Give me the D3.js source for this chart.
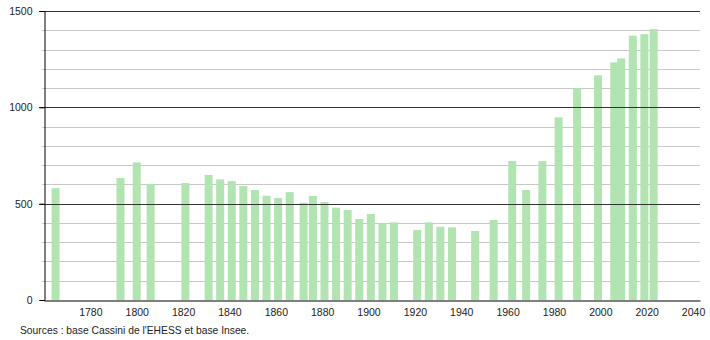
<!DOCTYPE html>
<html>
<head>
<meta charset="utf-8">
<script src="https://cdn.jsdelivr.net/npm/d3@7"></script>
<style>
  html, body { margin: 0; padding: 0; background: #fff; }
  svg { display: block; font-family: "Liberation Sans", Arial, sans-serif; }
</style>
</head>
<body>
<div id="chart"></div>
<script>
const years = [1765, 1793, 1800, 1806, 1821, 1831, 1836, 1841, 1846, 1851, 1856, 1861, 1866,
  1872, 1876, 1881, 1886, 1891, 1896, 1901, 1906, 1911, 1921, 1926, 1931, 1936, 1946,
  1954, 1962, 1968, 1975, 1982, 1990, 1999, 2006, 2009, 2014, 2019, 2023];
const population = [580, 633, 714, 603, 607, 649, 626, 617, 592, 571, 541, 529, 560,
  505, 540, 508, 479, 467, 420, 446, 398, 403, 363, 403, 380, 377, 358,
  415, 721, 571, 721, 948, 1099, 1166, 1233, 1254, 1372, 1380, 1406];
const xTicks = [1780, 1800, 1820, 1840, 1860, 1880, 1900, 1920, 1940, 1960, 1980, 2000, 2020, 2040];
const yMajor = [0, 500, 1000, 1500];
const yMinor = d3.range(0, 1501, 100);
const sourceText = "Sources : base Cassini de l'EHESS et base Insee.";

const width = 710;
const height = 340;
const plotLeft = 44, plotRight = 700, plotTop = 11, plotBottom = 300;
const barWidth = 8;

const svg = d3.select("#chart").append("svg")
  .attr("width", width)
  .attr("height", height)
  .attr("viewBox", [0, 0, width, height]);

const x = d3.scaleLinear().domain([1760, 2043]).range([plotLeft, plotRight]);
const y = d3.scaleLinear().domain([0, 1500]).range([plotBottom, plotTop]);

// minor grid
svg.append("g")
  .selectAll("line")
  .data(yMinor.filter((d) => d % 500 !== 0))
  .join("line")
  .attr("x1", plotLeft - 2).attr("x2", plotRight)
  .attr("y1", (d) => Math.round(y(d)) + 0.5)
  .attr("y2", (d) => Math.round(y(d)) + 0.5)
  .attr("stroke", "#c8c8c8")
  .attr("stroke-width", 1);

// bars
svg.append("g")
  .selectAll("rect")
  .data(years)
  .join("rect")
  .attr("x", (d) => x(d) - barWidth / 2)
  .attr("width", barWidth)
  .attr("y", (d, i) => y(population[i]))
  .attr("height", (d, i) => plotBottom - y(population[i]))
  .attr("fill", "#b1e4b1");

// major grid
svg.append("g")
  .selectAll("line")
  .data(yMajor.filter((d) => d > 0))
  .join("line")
  .attr("x1", plotLeft - 5).attr("x2", plotRight)
  .attr("y1", (d) => Math.round(y(d)) + 0.5)
  .attr("y2", (d) => Math.round(y(d)) + 0.5)
  .attr("stroke", "#333")
  .attr("stroke-width", 1);

// y axis
const yAxis = svg.append("g")
  .attr("transform", `translate(${plotLeft + 0.5},0)`)
  .call(d3.axisLeft(y).tickValues(yMajor).tickSize(5).tickPadding(7).tickFormat(d3.format("d")));
yAxis.select(".domain").attr("stroke", "#000");
yAxis.selectAll(".tick line").attr("stroke", "#000");
yAxis.selectAll(".tick text").attr("font-size", 10.5).attr("fill", "#222")
  .attr("font-family", "'Liberation Sans', Arial, sans-serif");

// x axis
const xAxis = svg.append("g")
  .attr("transform", `translate(0,${plotBottom + 0.5})`)
  .call(d3.axisBottom(x).tickValues(xTicks).tickSize(0).tickPadding(8).tickFormat(d3.format("d")));
xAxis.select(".domain").attr("stroke", "#000");
xAxis.selectAll(".tick text").attr("font-size", 10.5).attr("fill", "#222")
  .attr("font-family", "'Liberation Sans', Arial, sans-serif");

svg.append("text")
  .attr("x", 20)
  .attr("y", 334)
  .attr("font-size", 10.3)
  .attr("fill", "#222")
  .text(sourceText);
</script>
</body>
</html>
